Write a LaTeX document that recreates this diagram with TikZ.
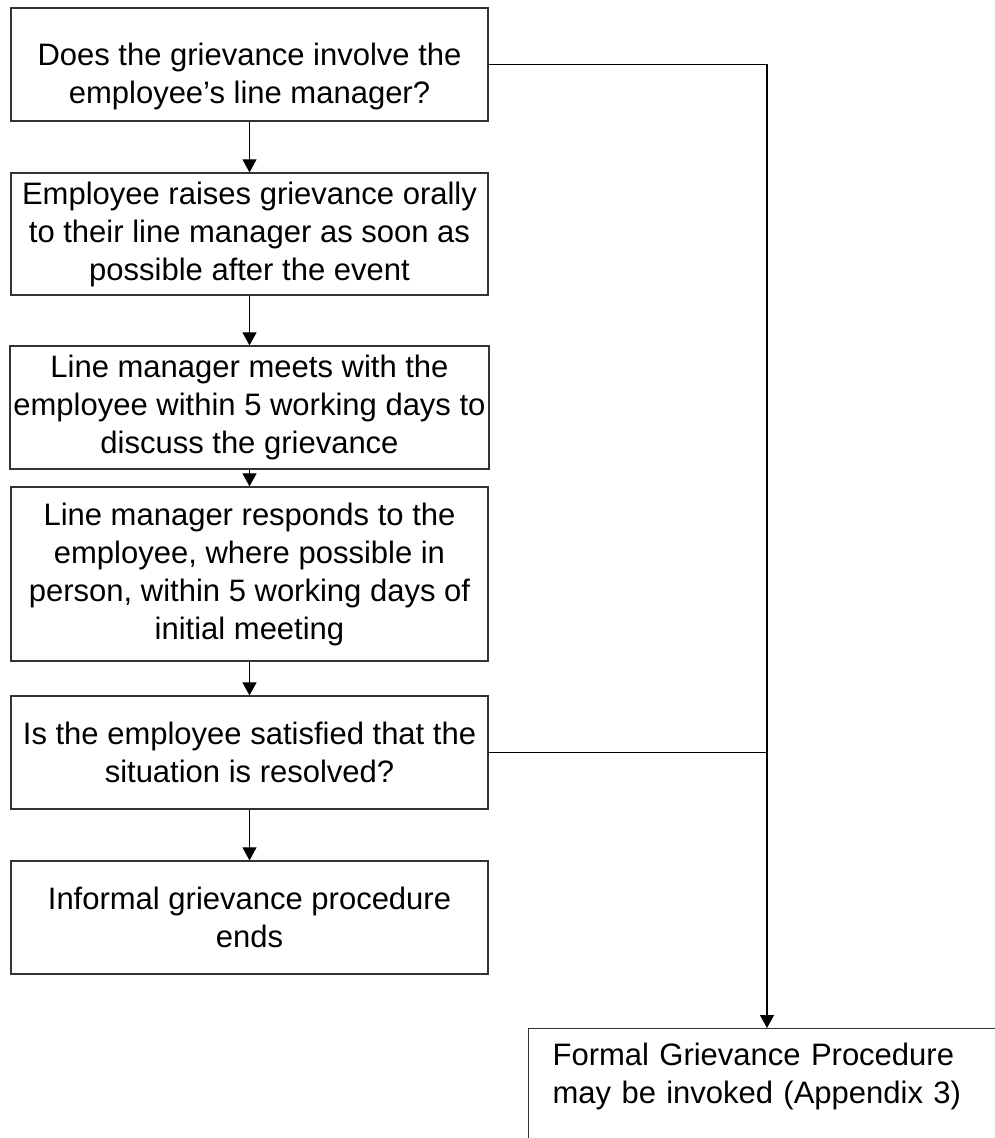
\documentclass[tikz,border=0pt]{standalone}
\usepackage{fontspec}
\setmainfont{Liberation Sans}
\usetikzlibrary{arrows.meta}
\tikzset{
  stepbox/.style={draw=black!80,line width=1.3pt,minimum width=477pt,align=center,
    font=\fontsize{31}{38}\selectfont},
}
\begin{document}
\begin{tikzpicture}[x=1pt,y=-1pt,>={Triangle[width=14pt,length=13pt]}]
\useasboundingbox (0,0) rectangle (994,1138);
\node[stepbox,minimum height=113pt] (inv) at (249.5,64.5) {\rule{0pt}{46pt}Does the grievance involve the\\employee’s line manager?};
\node[stepbox,minimum height=122pt] (raise) at (249.5,234) {Employee raises grievance orally\\to their line manager as soon as\\possible after the event};
\node[stepbox,minimum height=123pt] (meet) at (249.5,407.5) {Line manager meets with the\\employee within 5 working days to\\discuss the grievance};
\node[stepbox,minimum height=174pt] (resp) at (249.5,574) {Line manager responds to the\\employee, where possible in\\person, within 5 working days of\\initial meeting};
\node[stepbox,minimum height=113pt] (sat) at (249.5,752.5) {Is the employee satisfied that the\\situation is resolved?};
\node[stepbox,minimum height=113pt] (ends) at (249.5,917.5) {Informal grievance procedure\\ends};
\node[draw=black!80,line width=1.3pt,anchor=north west,align=left,text width=420pt,
  inner xsep=24pt,inner ysep=14pt,text depth=200pt,font=\fontsize{31}{38}\selectfont]
  (formal) at (528,1028) {Formal Grievance Procedure\\may be invoked (Appendix 3)};
\coordinate (drop) at ([xshift=239pt]formal.north west);

\draw[->,line width=1.2pt] (inv) -- (raise);
\draw[->,line width=1.2pt] (raise) -- (meet);
\draw[->,line width=1.2pt] (meet) -- (resp);
\draw[->,line width=1.2pt] (resp) -- (sat);
\draw[->,line width=1.2pt] (sat) -- (ends);
\draw[->,line width=1.2pt] (inv.east) -| (drop);
\draw[line width=1.2pt] (sat.east) -- (sat.east -| drop);
\end{tikzpicture}
\end{document}
